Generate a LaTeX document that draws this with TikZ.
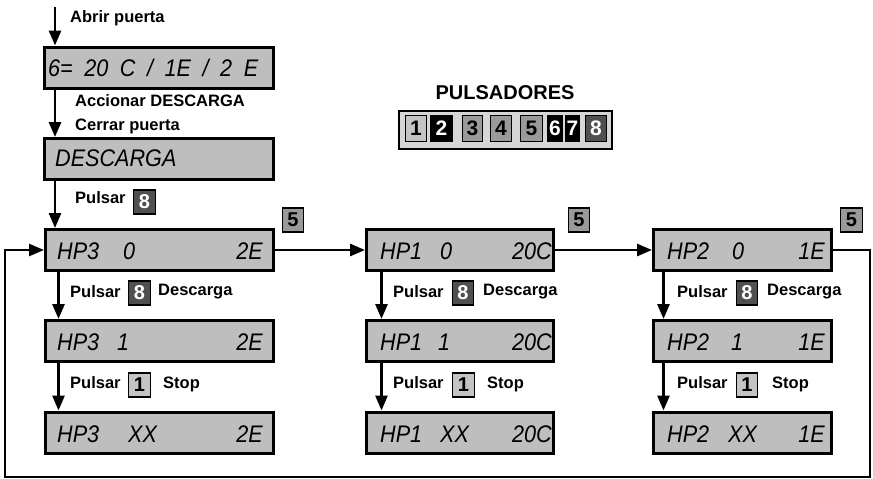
\documentclass[tikz,border=0pt]{standalone}
\usepackage{fontspec}
\setmainfont{Liberation Sans}
\newfontfamily\lcd[FakeStretch=0.9]{Liberation Sans}
\usetikzlibrary{arrows.meta}
\definecolor{lcdgray}{HTML}{BEBEBE}
\definecolor{keylight}{HTML}{C4C4C4}
\definecolor{keymid}{HTML}{9A9A9A}
\definecolor{keydark}{HTML}{505050}
\definecolor{framegray}{HTML}{D6D6D6}
\begin{document}
\begin{tikzpicture}[x=1pt,y=-1pt,
  lcdbox/.style={draw, line width=3pt, fill=lcdgray, inner sep=0pt, minimum height=41pt},
  lcdtxt/.style={inner sep=0pt, font=\lcd\itshape\fontsize{24}{24}\selectfont},
  lbl/.style={inner sep=0pt, anchor=base west, font=\bfseries\fontsize{16.5}{16.5}\selectfont},
  key/.style={draw, line width=1.3pt, inner sep=0pt, minimum width=21.5pt, minimum height=24pt, font=\bfseries\fontsize{20}{20}\selectfont},
  k1/.style={key, fill=keylight},
  k5/.style={key, fill=keymid},
  k8/.style={key, fill=keydark, text=white},
  kblack/.style={key, fill=black, text=white},
  pk/.style={minimum height=26pt, font=\bfseries\fontsize{21}{21}\selectfont},
  arr/.style={line width=2.8pt, -{Triangle[length=15pt,width=12pt]}},
  loopline/.style={line width=2.5pt, -{Triangle[length=15pt,width=12pt]}},
]
\useasboundingbox (0,0) rectangle (873,479);

% --- top sequence
\node[lcdbox, minimum width=229pt] (b1) at (159,67.5) {};
\node[lcdtxt, anchor=west] (t1) at (48,68) {\makebox[210pt][s]{6= 20 C / 1E / 2 E}};
\node[lcdbox, minimum width=229pt] (b2) at (159,159) {};
\node[lcdtxt, anchor=west] (t2) at (55,158.5) {DESCARGA};

% --- columns of displays
\node[lcdbox, minimum width=228pt] (a0) at (159.5,250) {};
\node[lcdbox, minimum width=228pt] (a1) at (159.5,341) {};
\node[lcdbox, minimum width=228pt] (a2) at (159.5,432.5) {};
\node[lcdbox, minimum width=187pt] (c0) at (460,250) {};
\node[lcdbox, minimum width=187pt] (c1) at (460,341) {};
\node[lcdbox, minimum width=187pt] (c2) at (460,432.5) {};
\node[lcdbox, minimum width=178pt] (d0) at (742.5,250) {};
\node[lcdbox, minimum width=178pt] (d1) at (742.5,341) {};
\node[lcdbox, minimum width=178pt] (d2) at (742.5,432.5) {};

% display texts, column HP3
\node[lcdtxt, anchor=west] (a0l) at (57,251.5) {HP3};
\node[lcdtxt, anchor=west] (a0m) at (123,251.5) {0};
\node[lcdtxt, anchor=east] (a0r) at (263,251.5) {2E};
\node[lcdtxt, anchor=west] (a1l) at (57,342.5) {HP3};
\node[lcdtxt, anchor=west] (a1m) at (117,342.5) {1};
\node[lcdtxt, anchor=east] (a1r) at (263,342.5) {2E};
\node[lcdtxt, anchor=west] (a2l) at (57,434) {HP3};
\node[lcdtxt, anchor=west] (a2m) at (128,434) {XX};
\node[lcdtxt, anchor=east] (a2r) at (263,434) {2E};
% column HP1
\node[lcdtxt, anchor=west] (c0l) at (380,251.5) {HP1};
\node[lcdtxt, anchor=west] (c0m) at (440,251.5) {0};
\node[lcdtxt, anchor=east] (c0r) at (552,251.5) {20C};
\node[lcdtxt, anchor=west] (c1l) at (380,342.5) {HP1};
\node[lcdtxt, anchor=west] (c1m) at (438,342.5) {1};
\node[lcdtxt, anchor=east] (c1r) at (552,342.5) {20C};
\node[lcdtxt, anchor=west] (c2l) at (380,434) {HP1};
\node[lcdtxt, anchor=west] (c2m) at (440,434) {XX};
\node[lcdtxt, anchor=east] (c2r) at (552,434) {20C};
% column HP2
\node[lcdtxt, anchor=west] (d0l) at (667,251.5) {HP2};
\node[lcdtxt, anchor=west] (d0m) at (732,251.5) {0};
\node[lcdtxt, anchor=east] (d0r) at (825,251.5) {1E};
\node[lcdtxt, anchor=west] (d1l) at (667,342.5) {HP2};
\node[lcdtxt, anchor=west] (d1m) at (731,342.5) {1};
\node[lcdtxt, anchor=east] (d1r) at (825,342.5) {1E};
\node[lcdtxt, anchor=west] (d2l) at (667,434) {HP2};
\node[lcdtxt, anchor=west] (d2m) at (728,434) {XX};
\node[lcdtxt, anchor=east] (d2r) at (825,434) {1E};

% --- labels of top sequence
\node[lbl] (l1) at (70,23) {Abrir puerta};
\node[lbl] (l2) at (75,106) {Accionar DESCARGA};
\node[lbl] (l3) at (75,130) {Cerrar puerta};
\node[lbl] (l4) at (75,203) {Pulsar};
\node[k8] (k0) at (144.5,202) {8};

% --- step labels
\node[lbl] (pa1) at (70,297) {Pulsar};
\node[k8] (ka8) at (139.5,293) {8};
\node[lbl] (da) at (158,295) {Descarga};
\node[lbl] (pa2) at (70,388) {Pulsar};
\node[k1] (ka1) at (139.5,385) {1};
\node[lbl] (sa) at (163,388) {Stop};

\node[lbl] (pc1) at (393,297) {Pulsar};
\node[k8] (kc8) at (463,293) {8};
\node[lbl] (dc) at (483,295) {Descarga};
\node[lbl] (pc2) at (393,388) {Pulsar};
\node[k1] (kc1) at (463.5,385) {1};
\node[lbl] (sc) at (487,388) {Stop};

\node[lbl] (pd1) at (677,297) {Pulsar};
\node[k8] (kd8) at (747,293) {8};
\node[lbl] (dd) at (767,295) {Descarga};
\node[lbl] (pd2) at (677,388) {Pulsar};
\node[k1] (kd1) at (747,385) {1};
\node[lbl] (sd) at (772,388) {Stop};

% key 5 next to the first row
\node[k5] (k5a) at (293,220) {5};
\node[k5] (k5c) at (579,220) {5};
\node[k5] (k5d) at (851.5,220) {5};

% --- PULSADORES panel
\node[inner sep=0pt, font=\bfseries\fontsize{20}{20}\selectfont] (ptitle) at (505,93) {PULSADORES};
\node[draw, line width=1.5pt, fill=framegray, minimum width=213pt, minimum height=38pt, inner sep=0pt] (frame) at (505.5,130) {};
\node[k1, pk, minimum width=20.5pt] (p1) at (416,128.5) {1};
\node[kblack, pk, minimum width=21.5pt] (p2) at (441.5,128.5) {2};
\node[k5, pk, minimum width=19.5pt] (p3) at (472.5,128.5) {3};
\node[k5, pk, minimum width=20.5pt] (p4) at (501,128.5) {4};
\node[k5, pk, minimum width=21.5pt] (p5) at (531.5,128.5) {5};
\node[kblack, pk, minimum width=15pt] (p6) at (555,128.5) {6};
\node[kblack, pk, minimum width=14pt] (p7) at (572.5,128.5) {7};
\node[k8, pk, minimum width=20.5pt] (p8) at (596,128.5) {8};

% --- connectors
\coordinate (start) at (55,7);
\draw[arr] (start) -- (start |- b1.north);
\draw[arr] (b1.south -| start) -- (b2.north -| start);
\draw[arr] (b2.south -| start) -- (a0.north -| start);

\draw[arr] ([xshift=14.5pt]a0.south west) -- ([xshift=14.5pt]a1.north west);
\draw[arr] ([xshift=14.5pt]a1.south west) -- ([xshift=14.5pt]a2.north west);
\draw[arr] ([xshift=16.5pt]c0.south west) -- ([xshift=16.5pt]c1.north west);
\draw[arr] ([xshift=16.5pt]c1.south west) -- ([xshift=16.5pt]c2.north west);
\draw[arr] ([xshift=11.5pt]d0.south west) -- ([xshift=11.5pt]d1.north west);
\draw[arr] ([xshift=11.5pt]d1.south west) -- ([xshift=11.5pt]d2.north west);

\draw[arr] (a0.east) -- (c0.west);
\draw[arr] (c0.east) -- (d0.west);

\coordinate (lr) at (870,477);
\coordinate (ll) at (5,477);
\draw[loopline] (d0.east) -| (lr) -- (ll) |- (a0.west);
\end{tikzpicture}
\end{document}
